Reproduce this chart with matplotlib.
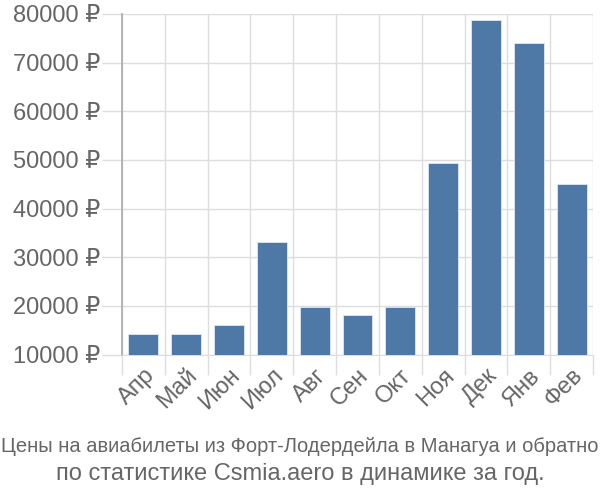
import matplotlib
matplotlib.use("Agg")
import matplotlib.pyplot as plt
import numpy as np

months = ["Апр", "Май", "Июн", "Июл", "Авг", "Сен", "Окт", "Ноя", "Дек", "Янв", "Фев"]
prices = [14200, 14200, 16100, 33200, 19800, 18100, 19800, 49300, 78700, 74000, 45000]
yticks = [10000, 20000, 30000, 40000, 50000, 60000, 70000, 80000]
title_lines = ["Цены на авиабилеты из Форт-Лодердейла в Манагуа и обратно",
               "по статистике Csmia.aero в динамике за год."]

plt.rcParams['font.family'] = ['Liberation Sans', 'DejaVu Sans']
text_color = "#666666"
grid_color = "#dddddd"
px = 72 / 100  # points per pixel

fig = plt.figure(figsize=(6, 5), dpi=100)
ax = fig.add_axes([122/600, 1 - 354.5/500, (593 - 122)/600, (354.5 - 14)/500])

x = np.arange(len(months))
ax.bar(x, [p - yticks[0] for p in prices], bottom=yticks[0], width=0.7,
       color="#4e79a7", edgecolor="#dfe8f1", linewidth=0.6, zorder=3)

ax.set_xlim(-0.5, len(months) - 0.5)
ax.set_ylim(yticks[0], yticks[-1])

ax.set_yticks(yticks)
ax.set_yticklabels([f"{v} ₽" for v in yticks], fontsize=17, color=text_color)
ax.tick_params(axis='y', length=20 * px, color=grid_color, width=1, pad=2 * px)

ax.set_xticks(x)
ax.set_xticklabels(months, rotation=45, ha='right', rotation_mode='anchor',
                   fontsize=17, color=text_color)
ax.tick_params(axis='x', which='major', length=0, pad=10 * px)
ax.set_xticks(np.arange(-0.5, len(months), 1.0), minor=True)
ax.tick_params(axis='x', which='minor', length=20 * px, color=grid_color, width=1)

ax.grid(True, axis='y', which='major', color=grid_color, linewidth=1, zorder=0)
ax.grid(True, axis='x', which='minor', color=grid_color, linewidth=1, zorder=0)
ax.set_axisbelow(True)

for s in ['top', 'right']:
    ax.spines[s].set_visible(False)
ax.spines['bottom'].set_color(grid_color)
ax.spines['left'].set_color("#aaaaaa")
ax.spines['left'].set_linewidth(1.2)

fig.text(0.5, 1 - 447/500, title_lines[0], ha='center', va='center',
         fontsize=14.5, color=text_color)
fig.text(0.5, 1 - 474/500, title_lines[1], ha='center', va='center',
         fontsize=17, color=text_color)

fig.savefig("out.png", dpi=100)
